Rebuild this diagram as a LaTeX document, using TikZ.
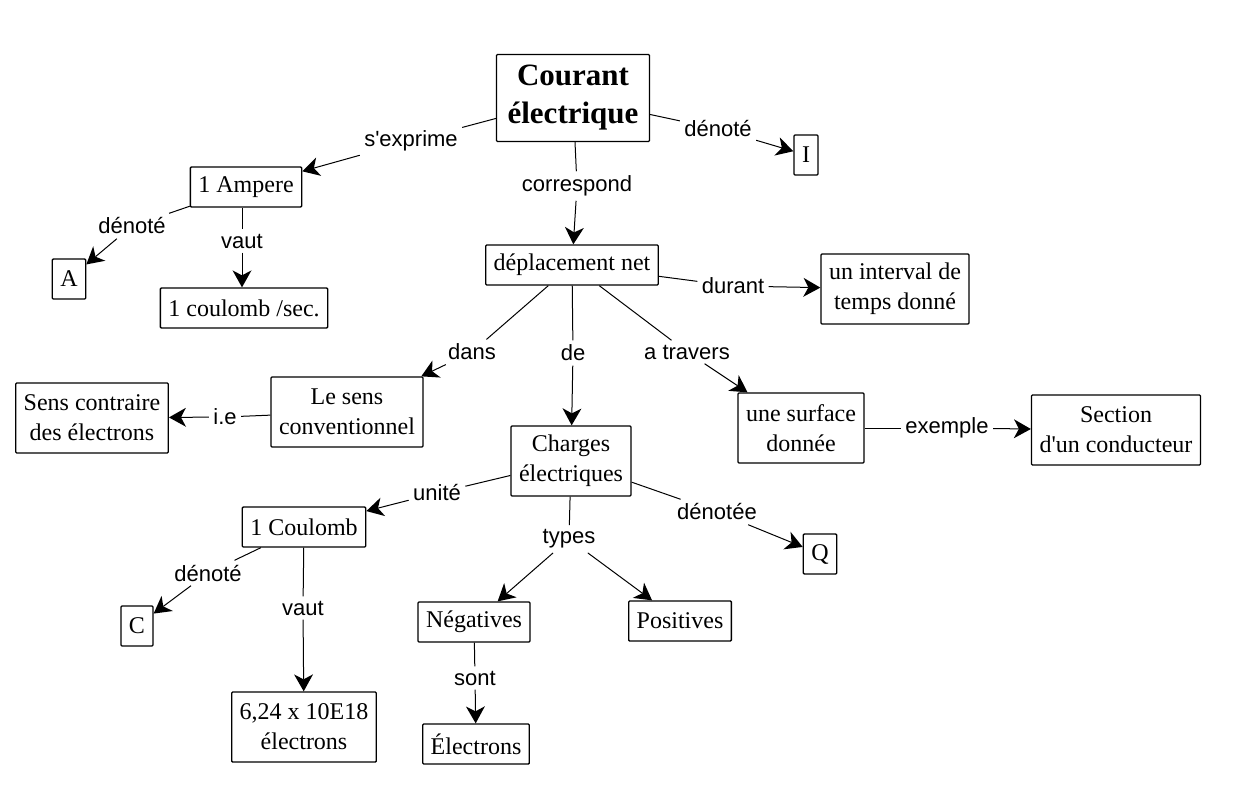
\documentclass[tikz,border=0pt]{standalone}
\usepackage{fontspec}
\setmainfont{Liberation Serif}
\setsansfont{Liberation Sans}
\usetikzlibrary{arrows.meta}

\begin{document}
\begin{tikzpicture}[x=1pt, y=-1pt, line width=1pt,
    concept/.style={draw, line width=1.3pt, rounded corners=1pt, align=center,
      font=\fontsize{24}{30}\selectfont, inner xsep=8pt, inner ysep=4pt, minimum height=40pt},
    tall/.style={minimum height=70pt},
    link/.style={font=\sffamily\fontsize{22}{26}\selectfont, inner sep=4pt},
    arr/.style={-{Stealth[length=17pt,width=19pt,inset=5pt,line width=0pt]}}]
  \useasboundingbox (0,0) rectangle (1258,790);
  % part for the concepts
  \node[concept, font=\bfseries\fontsize{31}{38}\selectfont, minimum width=153pt, minimum height=87pt]
    (courant) at (573,98) {Courant\\électrique};
  \node[concept] (unitI) at (806,155) {I};
  \node[concept] (ampere) at (246,187) {1 Ampere};
  \node[concept] (unitA) at (69,279) {A};
  \node[concept] (coulombsec) at (244,308) {1 coulomb /sec.};
  \node[concept] (deplacement) at (572,265) {déplacement net};
  \node[concept, tall] (interval) at (895,289) {un interval de\\temps donné};
  \node[concept, tall] (sens) at (347,412) {Le sens\\conventionnel};
  \node[concept, tall] (contraire) at (92,418) {Sens contraire\\des électrons};
  \node[concept, tall] (charges) at (571,461) {Charges\\électriques};
  \node[concept, tall] (surface) at (801,428) {une surface\\donnée};
  \node[concept, tall] (section) at (1116,430) {Section\\d\textquotesingle un conducteur};
  \node[concept] (coulomb) at (304,527) {1 Coulomb};
  \node[concept] (unitQ) at (820,554) {Q};
  \node[concept] (unitC) at (137,626) {C};
  \node[concept, tall] (nombre) at (304,727) {6,24 x 10E18\\électrons};
  \node[concept] (negatives) at (474,622) {Négatives};
  \node[concept] (positives) at (680,621) {Positives};
  \node[concept] (electrons) at (476,744) {Électrons};
  % part for the link words
  \node[link] (lexprime) at (411,141) {s\textquotesingle exprime};
  \node[link] (ldenoteI) at (718,129) {dénoté};
  \node[link] (lcorrespond) at (577,186) {correspond};
  \node[link] (ldenoteA) at (132,226) {dénoté};
  \node[link] (lvautA) at (242,241) {vaut};
  \node[link] (ldurant) at (733,286) {durant};
  \node[link] (ldans) at (472,352) {dans};
  \node[link] (lde) at (573,353) {de};
  \node[link] (ltravers) at (687,352) {a travers};
  \node[link] (lie) at (225,417) {i.e};
  \node[link] (lexemple) at (947,428) {exemple};
  \node[link] (lunite) at (437,493) {unité};
  \node[link] (ldenoteQ) at (717,512) {dénotée};
  \node[link] (ltypes) at (569,539) {types};
  \node[link] (ldenoteC) at (208,573) {dénoté};
  \node[link] (lvautC) at (303,608) {vaut};
  \node[link] (lsont) at (475,678) {sont};
  % part for the connectors
  \draw (courant) -- (lexprime);
  \draw[arr] (lexprime) -- (ampere);
  \draw (courant) -- (ldenoteI);
  \draw[arr] (ldenoteI) -- (unitI);
  \draw (courant) -- (lcorrespond);
  \draw[arr] (lcorrespond) -- (deplacement);
  \draw (ampere) -- (ldenoteA);
  \draw[arr] (ldenoteA) -- (unitA);
  \draw (ampere.south -| lvautA) -- (lvautA);
  \draw[arr] (lvautA) -- (lvautA |- coulombsec.north);
  \draw (deplacement) -- (ldurant);
  \draw[arr] (ldurant) -- (interval);
  \draw (deplacement) -- (ldans);
  \draw[arr] (ldans) -- (sens);
  \draw (deplacement) -- (lde);
  \draw[arr] (lde) -- (charges);
  \draw (deplacement) -- (ltravers);
  \draw[arr] (ltravers) -- (surface);
  \draw (sens) -- (lie);
  \draw[arr] (lie) -- (contraire);
  \draw (surface) -- (lexemple);
  \draw[arr] (lexemple) -- (section);
  \draw (charges) -- (lunite);
  \draw[arr] (lunite) -- (coulomb);
  \draw (charges) -- (ldenoteQ);
  \draw[arr] (ldenoteQ) -- (unitQ);
  \draw (charges) -- (ltypes);
  \draw[arr] (ltypes) -- (negatives);
  \draw[arr] (ltypes) -- (positives);
  \draw (coulomb) -- (ldenoteC);
  \draw[arr] (ldenoteC) -- (unitC);
  \draw (coulomb) -- (lvautC);
  \draw[arr] (lvautC) -- (nombre);
  \draw (negatives) -- (lsont);
  \draw[arr] (lsont) -- (electrons);
\end{tikzpicture}
\end{document}
